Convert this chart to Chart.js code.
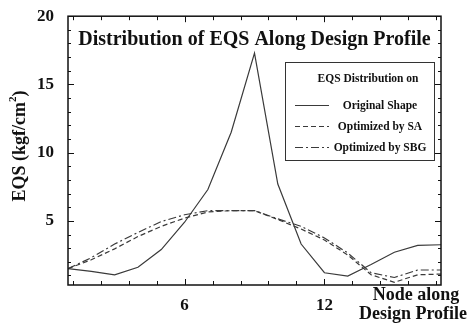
<!DOCTYPE html>
<html>
<head>
<meta charset="utf-8">
<script src="https://cdn.jsdelivr.net/npm/chart.js@4.4.1/dist/chart.umd.min.js"></script>
<style>
  html, body { margin: 0; padding: 0; background: #fff; }
  #wrap { width: 467px; height: 324px; }
</style>
</head>
<body>
<div id="wrap"><canvas id="eqsChart" width="467" height="324"></canvas></div>
<script>
// ---- data ----
const nodes = [1, 2, 3, 4, 5, 6, 7, 8, 9, 10, 11, 12, 13, 14, 15, 16, 17];
const originalShape = [1.5, 1.3, 1.05, 1.6, 2.9, 4.9, 7.3, 11.5, 17.3, 7.7, 3.3, 1.2, 0.95, 1.8, 2.7, 3.2, 3.25];
const optimizedSA  = [1.5, 2.15, 2.95, 3.85, 4.6, 5.2, 5.65, 5.75, 5.75, 5.1, 4.4, 3.6, 2.5, 1.05, 0.5, 1.05, 1.1];
const optimizedSBG = [1.5, 2.3, 3.3, 4.15, 4.95, 5.45, 5.75, 5.75, 5.75, 5.15, 4.6, 3.75, 2.65, 1.2, 0.85, 1.4, 1.4];
const seriesNames = ['Original Shape', 'Optimized by SA', 'Optimized by SBG'];
const yTickValues = [5, 10, 15, 20];
const xTickValues = [6, 12];

const SERIF = '"Liberation Serif", "Times New Roman", serif';
const LINE_COLOR = '#3a3a3a';
const dashes = [[], [5, 3], [8, 3, 2, 3]];

const toPoints = arr => arr.map((v, i) => ({ x: nodes[i], y: v }));

// frame, inward ticks, title, legend box, axis captions
const decorPlugin = {
    id: 'decor',
    afterDraw(chart) {
        const ctx = chart.ctx;
        const a = chart.chartArea;
        const xs = chart.scales.x;
        const ys = chart.scales.y;
        ctx.save();

        // frame
        ctx.strokeStyle = '#111';
        ctx.lineWidth = 1.5;
        ctx.strokeRect(a.left, a.top, a.right - a.left, a.bottom - a.top);

        // inward tick marks
        ctx.lineWidth = 1;
        ctx.beginPath();
        for (let v = 1; v <= 20; v++) {
            const y = Math.round(ys.getPixelForValue(v)) + 0.5;
            const len = v % 5 === 0 ? 6 : 3;
            ctx.moveTo(a.left, y); ctx.lineTo(a.left + len, y);
            ctx.moveTo(a.right, y); ctx.lineTo(a.right - len, y);
        }
        for (let k = -4; k <= 9; k++) {
            const v = 6 + k * 1.2;
            if (v < xs.min || v > xs.max) continue;
            const x = Math.round(xs.getPixelForValue(v)) + 0.5;
            const len = k % 5 === 0 ? 6 : 4;
            ctx.moveTo(x, a.bottom); ctx.lineTo(x, a.bottom - len);
            ctx.moveTo(x, a.top); ctx.lineTo(x, a.top + len);
        }
        ctx.stroke();

        // title inside the plot
        ctx.fillStyle = '#111';
        ctx.font = 'bold 20px ' + SERIF;
        ctx.textAlign = 'center';
        ctx.textBaseline = 'middle';
        ctx.fillText('Distribution of EQS Along Design Profile', (a.left + a.right) / 2, 40);

        // legend box
        const bx = 285, by = 62, bw = 149, bh = 98;
        ctx.strokeStyle = '#333';
        ctx.lineWidth = 1;
        ctx.strokeRect(bx + 0.5, by + 0.5, bw, bh);
        ctx.font = 'bold 11.5px ' + SERIF;
        ctx.fillText('EQS Distribution on', 368, 79);
        const rows = [105, 126, 147];
        rows.forEach((ry, i) => {
            ctx.strokeStyle = LINE_COLOR;
            ctx.lineWidth = 1.1;
            ctx.setLineDash(dashes[i]);
            ctx.beginPath();
            ctx.moveTo(295, ry + 0.5);
            ctx.lineTo(329, ry + 0.5);
            ctx.stroke();
            ctx.setLineDash([]);
            ctx.fillText(seriesNames[i], 380, ry + 1);
        });

        // x axis caption
        ctx.font = 'bold 18px ' + SERIF;
        ctx.textAlign = 'center';
        ctx.fillText('Node along', 416, 295);
        ctx.fillText('Design Profile', 413, 314);

        // y axis caption with superscript
        ctx.translate(20, 146);
        ctx.rotate(-Math.PI / 2);
        const mainFont = 'bold 18px ' + SERIF;
        const supFont = 'bold 11px ' + SERIF;
        const p1 = 'EQS (kgf/cm', p2 = '2', p3 = ')';
        ctx.font = mainFont; const w1 = ctx.measureText(p1).width; const w3 = ctx.measureText(p3).width;
        ctx.font = supFont; const w2 = ctx.measureText(p2).width;
        let x0 = -(w1 + w2 + w3) / 2;
        ctx.textAlign = 'left';
        ctx.font = mainFont; ctx.fillText(p1, x0, 0);
        ctx.font = supFont; ctx.fillText(p2, x0 + w1, -7);
        ctx.font = mainFont; ctx.fillText(p3, x0 + w1 + w2, 0);

        ctx.restore();
    }
};

const ctxEqs = document.getElementById('eqsChart').getContext('2d');
new Chart(ctxEqs, {
    type: 'line',
    data: {
        datasets: [originalShape, optimizedSA, optimizedSBG].map((arr, i) => ({
            label: seriesNames[i],
            data: toPoints(arr),
            borderColor: LINE_COLOR,
            borderWidth: 1.2,
            borderDash: dashes[i],
            pointRadius: 0,
            tension: 0,
            fill: false
        }))
    },
    options: {
        responsive: false,
        animation: false,
        layout: { padding: { top: 15, right: 26, left: 0, bottom: 0 } },
        plugins: {
            legend: { display: false },
            tooltip: { enabled: false },
            title: { display: false }
        },
        scales: {
            x: {
                type: 'linear',
                min: 1,
                max: 17,
                afterBuildTicks: s => { s.ticks = xTickValues.map(v => ({ value: v })); },
                afterFit: s => { s.height = 39; },
                grid: { display: false },
                border: { display: false },
                ticks: {
                    color: '#111',
                    padding: 2,
                    maxRotation: 0,
                    font: { family: SERIF, size: 17, weight: 'bold' }
                }
            },
            y: {
                min: 0.3,
                max: 20,
                afterBuildTicks: s => { s.ticks = yTickValues.map(v => ({ value: v })); },
                afterFit: s => { s.width = 68; },
                grid: { display: false },
                border: { display: false },
                ticks: {
                    color: '#111',
                    padding: 6,
                    font: { family: SERIF, size: 17, weight: 'bold' }
                }
            }
        }
    },
    plugins: [decorPlugin]
});
</script>
</body>
</html>
